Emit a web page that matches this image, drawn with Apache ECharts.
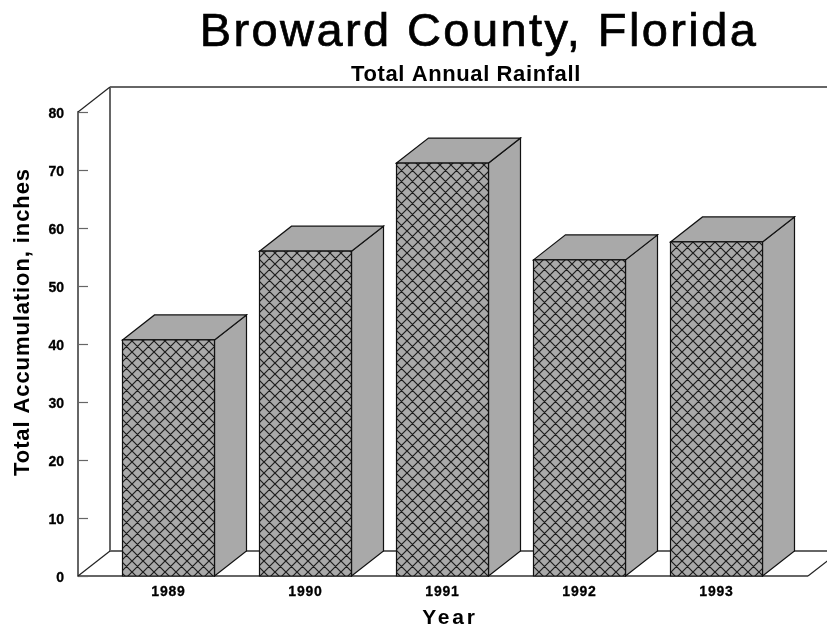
<!DOCTYPE html>
<html>
<head>
<meta charset="utf-8">
<style>html,body{margin:0;padding:0;background:#fff}#chart{width:827px;height:631px}</style>
<script src="https://cdn.jsdelivr.net/npm/echarts@6/dist/echarts.min.js"></script>
</head>
<body>
<div id="chart"></div>
<script>
const years = ['1989', '1990', '1991', '1992', '1993'];
const rainfall = [40.7, 56.0, 71.2, 54.5, 57.6];
const titleText = 'Broward County, Florida';
const subtitleText = 'Total Annual Rainfall';
const yAxisName = 'Total Accumulation, inches';
const xAxisName = 'Year';

const FONT = '"Liberation Sans", Arial, sans-serif';
const DEPTH_X = 32, DEPTH_Y = -25;
const WALL_PAD_L = 22, WALL_PAD_R = 23;
const FACE = '#a9a9a9', EDGE = '#111111', FRAME = '#666666';

// Tracked-out text: canvas letter spacing applied per string
const tracking = {
  [titleText]: '2.4px',
  [subtitleText]: '0.6px',
  [yAxisName]: '0.9px',
  [xAxisName]: '2.8px'
};
years.forEach(y => { tracking[y] = '0.8px'; });
function withTracking(proto, method) {
  const native = proto[method];
  proto[method] = function (text, x, y, maxWidth) {
    this.letterSpacing = tracking[text] || '0px';
    if (maxWidth === undefined) native.call(this, text, x, y);
    else native.call(this, text, x, y, maxWidth);
    this.letterSpacing = '0px';
  };
}
withTracking(CanvasRenderingContext2D.prototype, 'fillText');
withTracking(CanvasRenderingContext2D.prototype, 'strokeText');

// Crosshatch tile for the front faces of the columns
function hatchTile(size) {
  const c = document.createElement('canvas');
  c.width = c.height = size;
  const g = c.getContext('2d');
  g.fillStyle = FACE;
  g.fillRect(0, 0, size, size);
  g.strokeStyle = '#1c1c1c';
  g.lineWidth = 1.2;
  g.beginPath();
  for (let k = -size; k <= size; k += size) {
    g.moveTo(k, 0); g.lineTo(k + size, size);
    g.moveTo(k + size, 0); g.lineTo(k, size);
  }
  g.stroke();
  return c;
}
const hatch = { image: hatchTile(11), repeat: 'repeat' };

// Back wall, side wall and floor of the 3D box
function renderFrame(params, api) {
  const cs = params.coordSys;
  const yTop = api.coord([0, 80])[1];
  const yBase = api.coord([0, 0])[1];
  const xL = cs.x - WALL_PAD_L;
  const xR = cs.x + cs.width + WALL_PAD_R;
  const seg = (x1, y1, x2, y2, stroke, width) => ({
    type: 'line', shape: { x1, y1, x2, y2 },
    style: { stroke: stroke || FRAME, lineWidth: width || 2 }
  });
  return {
    type: 'group',
    children: [
      seg(xL + DEPTH_X, yTop + DEPTH_Y, xL + DEPTH_X, yBase + DEPTH_Y),
      seg(xL + DEPTH_X, yTop + DEPTH_Y, xR + DEPTH_X, yTop + DEPTH_Y),
      seg(xL + DEPTH_X, yBase + DEPTH_Y, xR + DEPTH_X, yBase + DEPTH_Y),
      seg(xL, yBase, xR, yBase),
      seg(xL, yTop, xL + DEPTH_X, yTop + DEPTH_Y, '#222', 1.2),
      seg(xL, yBase, xL + DEPTH_X, yBase + DEPTH_Y, '#222', 1.2),
      seg(xR, yBase, xR + DEPTH_X, yBase + DEPTH_Y, '#222', 1.2)
    ]
  };
}

// One extruded column: front face, top face, side face
function renderColumn(params, api) {
  const cat = api.value(0), val = api.value(1);
  const top = api.coord([cat, val]);
  const base = api.coord([cat, 0]);
  const w = api.size([1, 0])[0] * 92 / 137;
  const x0 = top[0] - w / 2, x1 = top[0] + w / 2;
  const yT = top[1], yB = base[1];
  const edge = { stroke: EDGE, lineWidth: 1.2, lineJoin: 'miter' };
  return {
    type: 'group',
    children: [
      { type: 'polygon',
        shape: { points: [[x1, yT], [x1 + DEPTH_X, yT + DEPTH_Y], [x1 + DEPTH_X, yB + DEPTH_Y], [x1, yB]] },
        style: Object.assign({ fill: FACE }, edge) },
      { type: 'polygon',
        shape: { points: [[x0, yT], [x0 + DEPTH_X, yT + DEPTH_Y], [x1 + DEPTH_X, yT + DEPTH_Y], [x1, yT]] },
        style: Object.assign({ fill: FACE }, edge) },
      { type: 'rect',
        shape: { x: x0, y: yT, width: w, height: yB - yT },
        style: Object.assign({ fill: hatch }, edge) }
    ]
  };
}

const tickLabel = { fontFamily: FONT, fontSize: 14, fontWeight: 'bold', color: '#000',
  textBorderColor: '#000', textBorderWidth: 0.3 };

const chart = echarts.init(document.getElementById('chart'), null, { renderer: 'canvas' });
chart.setOption({
  animation: false,
  backgroundColor: '#ffffff',
  title: [
    { text: titleText, left: 474, top: 5, textAlign: 'center',
      textStyle: { fontFamily: FONT, fontSize: 47, fontWeight: 'normal', color: '#000',
        textBorderColor: '#000', textBorderWidth: 0.7 } },
    { text: subtitleText, left: 461, top: 59, textAlign: 'center',
      textStyle: { fontFamily: FONT, fontSize: 22, fontWeight: 'bold', color: '#000' } }
  ],
  grid: { left: 100, top: 112, width: 685, height: 464, containLabel: false, outerBoundsMode: 'none' },
  xAxis: {
    type: 'category', data: years,
    axisLine: { show: false }, axisTick: { show: false },
    axisLabel: Object.assign({ margin: 9 }, tickLabel)
  },
  yAxis: {
    type: 'value', min: 0, max: 80, interval: 10, offset: 22,
    axisLine: { show: true, lineStyle: { color: FRAME, width: 2 } },
    axisTick: { show: true, inside: true, length: 10, lineStyle: { color: FRAME, width: 1.2 } },
    axisLabel: Object.assign({
      margin: 14,
      formatter: '{v|{value}}',
      // Labels sit slightly below their tick marks
      rich: { v: Object.assign({ padding: [5, 0, 0, 0] }, tickLabel) }
    }, tickLabel),
    splitLine: { show: false }
  },
  graphic: [
    { type: 'text', x: 23, y: 322, rotation: Math.PI / 2,
      style: { text: yAxisName, font: 'bold 22px ' + FONT, fill: '#000', align: 'center', verticalAlign: 'middle' } },
    { type: 'text', x: 450, y: 618,
      style: { text: xAxisName, font: 'bold 21px ' + FONT, fill: '#000', align: 'center', verticalAlign: 'middle' } }
  ],
  series: [
    { type: 'custom', name: 'frame', coordinateSystem: 'cartesian2d', clip: false, z: 1,
      silent: true, data: [[0, 0]], renderItem: renderFrame },
    { type: 'custom', name: 'Rainfall', coordinateSystem: 'cartesian2d', clip: false, z: 2,
      data: rainfall.map((v, i) => [i, v]), encode: { x: 0, y: 1 }, renderItem: renderColumn }
  ]
});
</script>
</body>
</html>
